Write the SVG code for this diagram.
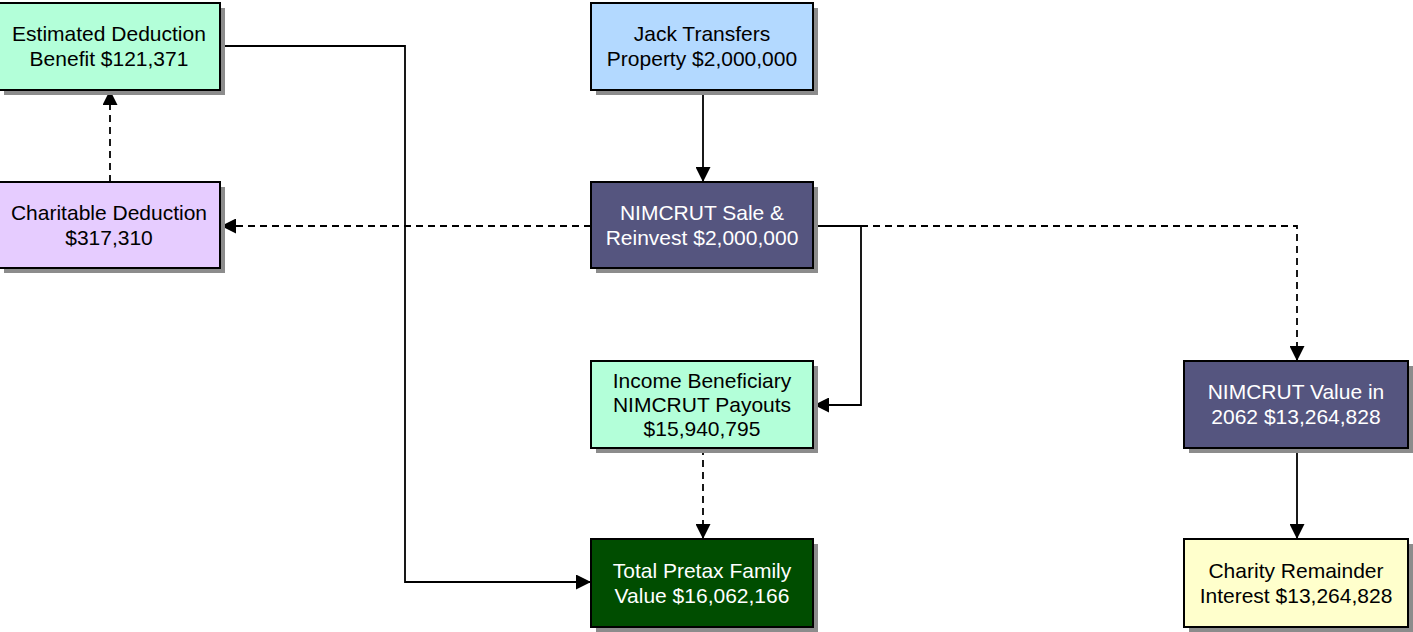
<svg xmlns="http://www.w3.org/2000/svg" width="1413" height="632" viewBox="0 0 1413 632">
<style>
.box{stroke:#000;stroke-width:2}
.shadow{fill:#8c8c8c}
text{font-family:"Liberation Sans",Arial,sans-serif;font-size:21px;text-anchor:middle;fill:#000}
text.w{fill:#fff}
.edge{fill:none;stroke:#000;stroke-width:1.8}
.dash{stroke-dasharray:7 5}
</style>
<defs>
<marker id="arr" markerUnits="userSpaceOnUse" markerWidth="15" markerHeight="15" refX="15" refY="7.5" orient="auto">
<path d="M0,0 L15,7.5 L0,15 z" fill="#000"/>
</marker>
</defs>
<rect width="1413" height="632" fill="#fff"/>
<g id="connectors">
<path class="edge" d="M703,90 L703,182" marker-end="url(#arr)"/>
<path class="edge dash" d="M591,226 L221,226" marker-end="url(#arr)"/>
<path class="edge dash" d="M110,182 L110,90" marker-end="url(#arr)"/>
<path class="edge" d="M220,46 L405,46 L405,582 L591,582" marker-end="url(#arr)"/>
<path class="edge" d="M813,226 L861,226 L861,405 L814,405" marker-end="url(#arr)"/>
<path class="edge dash" d="M813,226 L1297,226 L1297,361" marker-end="url(#arr)"/>
<path class="edge dash" d="M703,448 L703,539" marker-end="url(#arr)"/>
<path class="edge" d="M1297,448 L1297,539" marker-end="url(#arr)"/>
</g>
<g id="estimated">
<rect class="shadow" x="4" y="8" width="221" height="87"/>
<rect class="box" x="-1" y="3" width="221" height="87" fill="#b3ffd9"/>
<text x="109" y="41">Estimated Deduction</text>
<text x="109" y="66">Benefit $121,371</text>
</g>
<g id="charitable">
<rect class="shadow" x="4" y="187" width="221" height="86"/>
<rect class="box" x="-1" y="182" width="221" height="86" fill="#e6ccff"/>
<text x="109" y="220">Charitable Deduction</text>
<text x="109" y="245">$317,310</text>
</g>
<g id="jack">
<rect class="shadow" x="596" y="8" width="222" height="87"/>
<rect class="box" x="591" y="3" width="222" height="87" fill="#b3d9ff"/>
<text x="702" y="41">Jack Transfers</text>
<text x="702" y="66">Property $2,000,000</text>
</g>
<g id="nimcrut-sale">
<rect class="shadow" x="596" y="187" width="222" height="86"/>
<rect class="box" x="591" y="182" width="222" height="86" fill="#55557f"/>
<text class="w" x="702" y="220">NIMCRUT Sale &amp;</text>
<text class="w" x="702" y="245">Reinvest $2,000,000</text>
</g>
<g id="income">
<rect class="shadow" x="596" y="366" width="222" height="87"/>
<rect class="box" x="591" y="361" width="222" height="87" fill="#b3ffd9"/>
<text x="702" y="388">Income Beneficiary</text>
<text x="702" y="412">NIMCRUT Payouts</text>
<text x="702" y="436">$15,940,795</text>
</g>
<g id="total">
<rect class="shadow" x="596" y="544" width="222" height="88"/>
<rect class="box" x="591" y="539" width="222" height="88" fill="#004d00"/>
<text class="w" x="702" y="578">Total Pretax Family</text>
<text class="w" x="702" y="603">Value $16,062,166</text>
</g>
<g id="nimcrut-value">
<rect class="shadow" x="1189" y="366" width="224" height="87"/>
<rect class="box" x="1184" y="361" width="224" height="87" fill="#55557f"/>
<text class="w" x="1296" y="399">NIMCRUT Value in</text>
<text class="w" x="1296" y="424">2062 $13,264,828</text>
</g>
<g id="charity">
<rect class="shadow" x="1189" y="544" width="224" height="88"/>
<rect class="box" x="1184" y="539" width="224" height="88" fill="#ffffcc"/>
<text x="1296" y="578">Charity Remainder</text>
<text x="1296" y="603">Interest $13,264,828</text>
</g>
</svg>
